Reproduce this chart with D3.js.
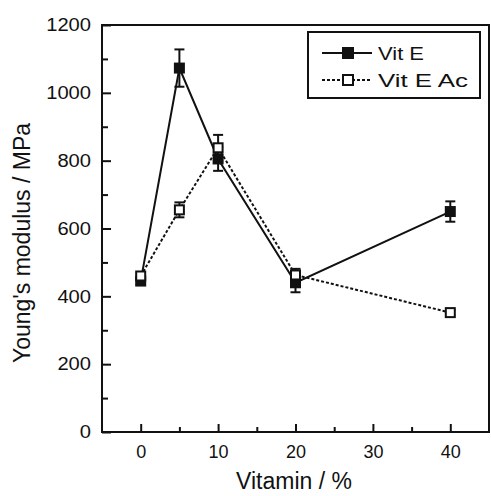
<!DOCTYPE html>
<html>
<head>
<meta charset="utf-8">
<script src="https://cdn.jsdelivr.net/npm/d3@7"></script>
<style>
  body { margin: 0; background: #fff; }
  text { font-family: "Liberation Sans", Arial, sans-serif; fill: #111; }
</style>
</head>
<body>
<div class="svg_area"></div>
<script>
// chart data
var vitamin = [0, 5, 10, 20, 40];
var vitE = [445, 1073, 805, 440, 650];
var vitEErr = [10, 55, 35, 28, 30];
var vitEAc = [460, 655, 838, 463, 352];
var vitEAcErr = [8, 22, 38, 18, 8];
var xTicks = [0, 10, 20, 30, 40];
var yTicks = [0, 200, 400, 600, 800, 1000, 1200];
var legendNames = ["Vit E", "Vit E Ac"];

var svgWidth = 491;
var svgHeight = 496;

var margin = { top: 25, right: 2, bottom: 64, left: 102 };
var chartWidth = svgWidth - margin.left - margin.right;
var chartHeight = svgHeight - margin.top - margin.bottom;

var svg = d3.select(".svg_area")
  .append("svg")
  .attr("width", svgWidth)
  .attr("height", svgHeight);

var chartGroup = svg.append("g")
  .attr("transform", `translate(${margin.left}, ${margin.top})`);

var xScale = d3.scaleLinear().domain([-5, 45]).range([0, chartWidth]);
var yScale = d3.scaleLinear().domain([0, 1200]).range([chartHeight, 0]);

// frame
chartGroup.append("rect")
  .attr("width", chartWidth)
  .attr("height", chartHeight)
  .attr("fill", "none")
  .attr("stroke", "#111")
  .attr("stroke-width", 2);

// axes, ticks pointing inward
var bottomAxis = d3.axisBottom(xScale).tickValues(xTicks).tickSize(-8).tickPadding(13).tickFormat(d3.format("d"));
var leftAxis = d3.axisLeft(yScale).tickValues(yTicks).tickSize(-9).tickPadding(11).tickFormat(d3.format("d"));

var xAxisG = chartGroup.append("g")
  .attr("transform", `translate(0, ${chartHeight})`)
  .call(bottomAxis);
var yAxisG = chartGroup.append("g").call(leftAxis);

[xAxisG, yAxisG].forEach(function(g) {
  g.select(".domain").remove();
  g.selectAll(".tick line").attr("stroke", "#111").attr("stroke-width", 2);
  g.selectAll(".tick text")
    .attr("font-size", 18)
    .style("font-family", "Liberation Sans, Arial, sans-serif")
    .attr("fill", "#111");
});
// y labels are drawn a little wider in the original
yAxisG.selectAll(".tick text")
  .attr("textLength", d => String(d).length * 11.2)
  .attr("lengthAdjust", "spacingAndGlyphs");

// minor ticks
chartGroup.append("g")
  .attr("transform", `translate(0, ${chartHeight})`)
  .call(d3.axisBottom(xScale).tickValues([5, 15, 25, 35]).tickSize(-5).tickFormat(""))
  .call(g => g.select(".domain").remove())
  .selectAll("line").attr("stroke", "#111").attr("stroke-width", 2);

chartGroup.append("g")
  .call(d3.axisLeft(yScale).tickValues([100, 300, 500, 700, 900, 1100]).tickSize(-6).tickFormat(""))
  .call(g => g.select(".domain").remove())
  .selectAll("line").attr("stroke", "#111").attr("stroke-width", 2);

// series
var series = [
  { name: legendNames[0], values: vitE, errs: vitEErr, dash: null, fill: "#111", textLen: 46 },
  { name: legendNames[1], values: vitEAc, errs: vitEAcErr, dash: "3,2", fill: "#fff", textLen: 90 }
];

var line = d3.line()
  .x(d => xScale(d.x))
  .y(d => yScale(d.y));

series.forEach(function(s) {
  var pts = vitamin.map((v, i) => ({ x: v, y: s.values[i], e: s.errs[i] }));

  chartGroup.append("path")
    .datum(pts)
    .attr("d", line)
    .attr("fill", "none")
    .attr("stroke", "#111")
    .attr("stroke-width", 2)
    .attr("stroke-dasharray", s.dash);

  var eb = chartGroup.append("g").selectAll("g")
    .data(pts)
    .enter()
    .append("g");

  eb.append("line")
    .attr("x1", d => xScale(d.x)).attr("x2", d => xScale(d.x))
    .attr("y1", d => yScale(d.y - d.e)).attr("y2", d => yScale(d.y + d.e))
    .attr("stroke", "#111").attr("stroke-width", 2);
  eb.append("line")
    .attr("x1", d => xScale(d.x) - 5).attr("x2", d => xScale(d.x) + 5)
    .attr("y1", d => yScale(d.y + d.e)).attr("y2", d => yScale(d.y + d.e))
    .attr("stroke", "#111").attr("stroke-width", 2);
  eb.append("line")
    .attr("x1", d => xScale(d.x) - 5).attr("x2", d => xScale(d.x) + 5)
    .attr("y1", d => yScale(d.y - d.e)).attr("y2", d => yScale(d.y - d.e))
    .attr("stroke", "#111").attr("stroke-width", 2);

  chartGroup.append("g").selectAll("rect")
    .data(pts)
    .enter()
    .append("rect")
    .attr("x", d => xScale(d.x) - 4.5)
    .attr("y", d => yScale(d.y) - 4.5)
    .attr("width", 9)
    .attr("height", 9)
    .attr("fill", s.fill)
    .attr("stroke", "#111")
    .attr("stroke-width", 2);
});

// legend
var legend = svg.append("g").attr("transform", "translate(308, 32)");
legend.append("rect")
  .attr("width", 172)
  .attr("height", 66)
  .attr("fill", "#fff")
  .attr("stroke", "#111")
  .attr("stroke-width", 2);

series.forEach(function(s, i) {
  var ly = 21 + i * 27;
  legend.append("line")
    .attr("x1", 14).attr("x2", 64)
    .attr("y1", ly).attr("y2", ly)
    .attr("stroke", "#111").attr("stroke-width", 2)
    .attr("stroke-dasharray", s.dash);
  legend.append("rect")
    .attr("x", 35).attr("y", ly - 5)
    .attr("width", 10).attr("height", 10)
    .attr("fill", s.fill)
    .attr("stroke", "#111").attr("stroke-width", 2);
  legend.append("text")
    .attr("x", 70)
    .attr("y", ly + 7)
    .attr("font-size", 18)
    .attr("textLength", s.textLen)
    .attr("lengthAdjust", "spacingAndGlyphs")
    .text(s.name);
});

// axis labels
svg.append("text")
  .attr("transform", "rotate(-90)")
  .attr("x", -243)
  .attr("y", 30)
  .attr("text-anchor", "middle")
  .attr("font-size", 23)
  .text("Young's modulus / MPa");

svg.append("text")
  .attr("x", 294)
  .attr("y", 489)
  .attr("text-anchor", "middle")
  .attr("font-size", 23)
  .text("Vitamin / %");
</script>
</body>
</html>
